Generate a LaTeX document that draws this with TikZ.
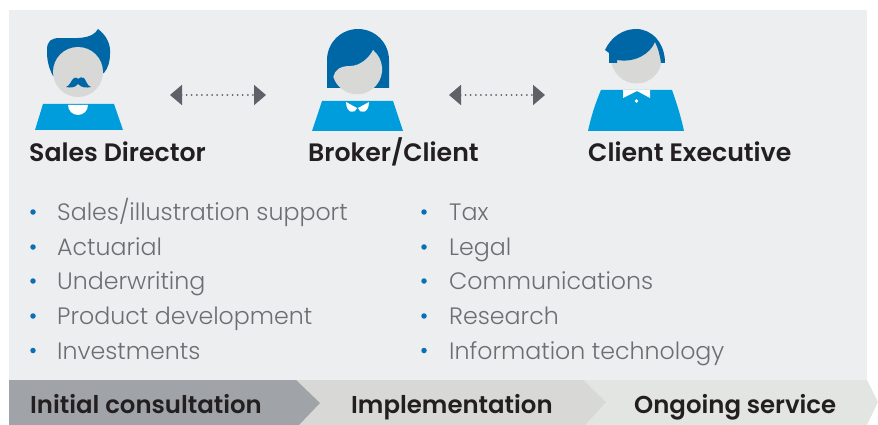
\documentclass[tikz,border=0pt]{standalone}
\usepackage{fontspec}
\usepackage{xcolor}
\setmainfont{Poppins}
\newfontfamily\itemfont{Poppins Light}
\newfontfamily\labelfont{Poppins SemiBold}
\usetikzlibrary{arrows.meta, positioning}
\definecolor{panelgray}{HTML}{EDEEF0}
\definecolor{hairblue}{HTML}{0067A6}
\definecolor{shirtblue}{HTML}{009DDC}
\definecolor{facegray}{HTML}{D8D8D6}
\definecolor{arrowgray}{HTML}{5F6169}
\definecolor{itemgray}{HTML}{6D6E71}
\definecolor{dotblue}{HTML}{0A6FB5}
\definecolor{inkblack}{HTML}{231F20}
\definecolor{stagedark}{HTML}{A0A4A8}
\definecolor{stagelight}{HTML}{E3E5E3}
\tikzset{
    role/.style={anchor=base west,inner sep=0pt,text=inkblack,font=\labelfont\fontsize{25.2}{30}\selectfont},
    item/.style={anchor=base west,inner sep=0pt,text=itemgray,font=\itemfont\fontsize{23.7}{28}\selectfont},
    stage/.style={anchor=base west,inner sep=0pt,text=inkblack,font=\labelfont\fontsize{24.4}{28}\selectfont},
    bullet/.style={circle,fill=dotblue,minimum size=5.5pt,inner sep=0pt},
    dotlink/.style={draw=arrowgray,line width=2pt,line cap=round,dash pattern=on 0pt off 5.1pt,
        {Triangle[length=12pt,width=20pt,fill=arrowgray]}-{Triangle[length=12pt,width=20pt,fill=arrowgray]}},
    hair/.style={fill=hairblue},
    face/.style={fill=facegray},
    shirt/.style={fill=shirtblue},
    collar/.style={fill=white}
}
\begin{document}
\begin{tikzpicture}[x=1pt,y=-1pt]
    \useasboundingbox (0,0) rectangle (878,425);
    \fill[panelgray] (9,10) rectangle (867,380);

    % stages
    \fill[stagelight] (570,380) -- (867,380) -- (878,402) -- (867,425) -- (570,425) -- cycle;
    \fill[facegray] (280,380) -- (583,380) -- (606,402) -- (585,425) -- (280,425) -- cycle;
    \fill[stagedark] (9,380) -- (296,380) -- (320,403) -- (299,425) -- (9,425) -- cycle;
    \node[stage](initial) at (30,413){Initial consultation};
    \node[stage](implementation) at (351,413){Implementation};
    \node[stage](ongoing) at (634,413){Ongoing service};

    % sales director
    \fill[hair] (53,76) .. controls (48,66) and (47,60) .. (47,50) .. controls (47,41) and (51,38) .. (60,38)
        .. controls (75,38) and (92,40) .. (98,29) .. controls (106,35) and (111,44) .. (110,54) .. controls (110,62) and (108,68) .. (104,73) -- cycle;
    \fill[face] (78,72) circle (25);
    \fill[hair] (66,87) .. controls (70,86) and (71,80) .. (74,78) .. controls (76,77) and (78,78) .. (78,79)
        .. controls (79,77) and (82,77) .. (84,78) .. controls (86,80) and (87,86) .. (91,87) .. controls (86,88) and (82,88) .. (78,84) .. controls (75,88) and (70,88) .. (66,87) -- cycle;
    \fill[shirt] (43,104) -- (114,104) -- (123,130) -- (35,130) -- cycle;
    \fill[collar] (68,105) arc[start angle=180,end angle=0,radius=10] -- cycle;
    \node[role](sales) at (29,161){Sales Director};

    % broker
    \fill[hair] (327,88) -- (327,60) arc[start angle=180,end angle=360,radius=31] -- (389,88) -- cycle;
    \fill[face] (373,50) arc[start angle=-50.6,end angle=162.6,radius=25] .. controls (335,70) and (340,66) .. (350,66) .. controls (360,66) and (369,58) .. (373,50) -- cycle;
    \fill[shirt] (322,101) -- (393,101) -- (403,131) -- (312,131) -- cycle;
    \fill[collar] (346,102) -- (357,108) .. controls (356,114) and (346,114) .. (346,102) -- cycle;
    \fill[collar] (369,102) -- (358,108) .. controls (359,114) and (369,114) .. (369,102) -- cycle;
    \node[role](broker) at (308,161){Broker/Client};

    % client executive
    \fill[face] (636.5,58) circle (25.5);
    \fill[hair] (605,50) .. controls (611,37) and (623,29) .. (636,29) .. controls (652,29) and (665,43) .. (665,63) -- (661,63)
        .. controls (660,55) and (658,48) .. (655,42) .. controls (650,54) and (635,63) .. (617,60) -- (617,63) -- (609,63) -- (609,53) -- cycle;
    \fill[shirt] (601,90) -- (672,90) .. controls (677,104) and (681,117) .. (684,131) -- (588,131) .. controls (591,117) and (595,104) .. (601,90) -- cycle;
    \fill[collar] (623,90) -- (650,90) -- (650,98) -- (637,91) -- (623,98) -- cycle;
    \fill[collar] (636.5,101) circle (1.8);
    \node[role](client) at (588,161){Client Executive};

    % arrows
    \coordinate (a1) at (170,95);
    \coordinate (a2) at (266,95);
    \coordinate (a3) at (449,95);
    \coordinate (a4) at (545,95);
    \path[dotlink] (a1) -- (a2);
    \path[dotlink] (a3) -- (a4);

    % left list
    \node[bullet](l1) at (33,212){};
    \node[bullet](l2) at (33,247){};
    \node[bullet](l3) at (33,281){};
    \node[bullet](l4) at (33,316){};
    \node[bullet](l5) at (33,350.5){};
    \node[item](support) at (57,220){Sales/illustration support};
    \node[item](actuarial) at (57,255){Actuarial};
    \node[item](underwriting) at (57,289){Underwriting};
    \node[item](product) at (57,324){Product development};
    \node[item](investments) at (57,359){Investments};

    % right list
    \node[bullet](r1) at (424,212){};
    \node[bullet](r2) at (424,247){};
    \node[bullet](r3) at (424,281){};
    \node[bullet](r4) at (424,316){};
    \node[bullet](r5) at (424,350.5){};
    \node[item](tax) at (449,220){Tax};
    \node[item](legal) at (449,255){Legal};
    \node[item](communications) at (449,289){Communications};
    \node[item](research) at (449,324){Research};
    \node[item](technology) at (449,359){Information technology};
\end{tikzpicture}
\end{document}
